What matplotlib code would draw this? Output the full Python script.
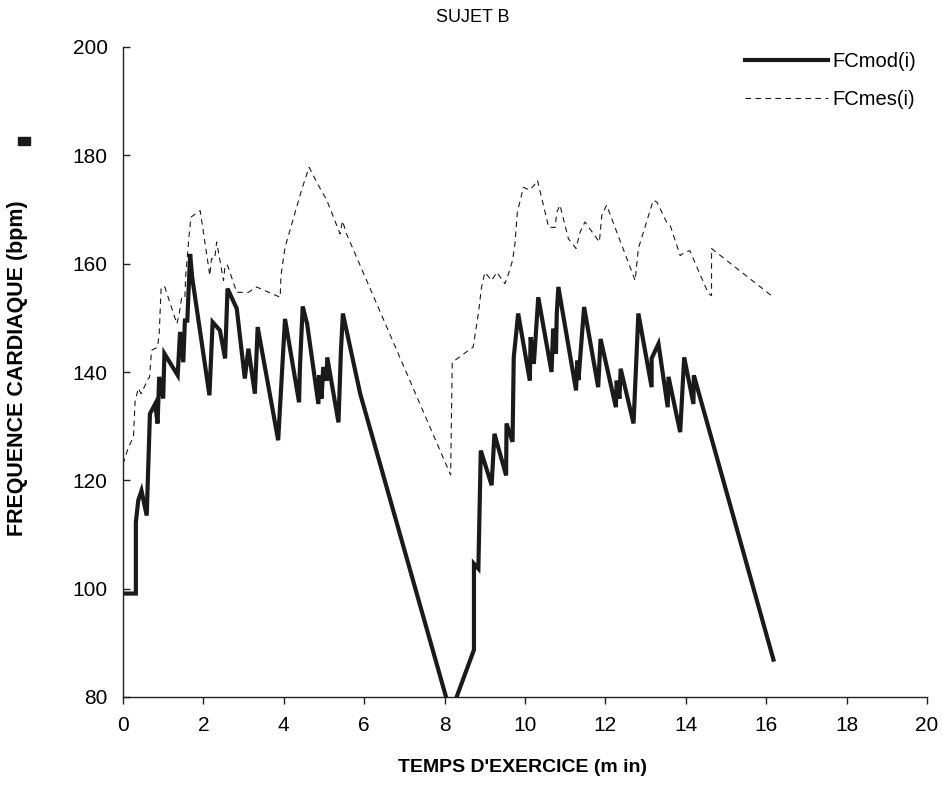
import matplotlib
matplotlib.use("Agg")
import matplotlib.pyplot as plt
from matplotlib.patches import Rectangle

plt.rcParams['font.family'] = ['Liberation Sans', 'DejaVu Sans']

# FCmod(i) - modelled heart rate
mod_t = [0, 0.32, 0.32, 0.38, 0.46, 0.59, 0.67, 0.80, 0.86, 0.90, 1.00, 1.03, 1.36, 1.42,
         1.50, 1.54, 1.60, 1.67, 1.72, 2.15, 2.23, 2.41, 2.54, 2.60, 2.83, 3.03, 3.12, 3.28,
         3.35, 3.86, 4.03, 4.38, 4.40, 4.47, 4.58, 4.86, 4.88, 4.94, 4.98, 5.07, 5.08, 5.36,
         5.42, 5.47, 5.90, 8.15, 8.73, 8.73, 8.84, 8.90, 9.17, 9.24, 9.53, 9.54, 9.69, 9.72,
         9.83, 10.12, 10.14, 10.22, 10.33, 10.66, 10.70, 10.77, 10.79, 10.83, 11.27, 11.30,
         11.33, 11.47, 11.82, 11.88, 12.26, 12.28, 12.35, 12.38, 12.70, 12.82, 13.15, 13.15,
         13.32, 13.55, 13.57, 13.86, 13.96, 14.19, 14.20, 16.18]
mod_v = [99.1, 99.1, 112.3, 116.3, 118.1, 113.5, 132.3, 134.1, 130.5, 139.1, 135.1, 143.4,
         139.4, 147.4, 141.8, 149.5, 149.5, 161.8, 157.5, 135.7, 149.2, 147.7, 142.5, 155.4,
         151.7, 138.8, 144.3, 136.0, 148.3, 127.4, 149.8, 134.4, 140.6, 152.1, 148.9, 134.1,
         139.4, 135.1, 140.9, 138.4, 142.7, 130.7, 143.7, 150.8, 136.0, 77.0, 88.7, 104.6,
         103.7, 125.5, 119.1, 128.6, 120.9, 130.5, 127.1, 142.7, 150.8, 138.4, 146.4, 141.5,
         153.8, 140.0, 148.0, 143.4, 150.8, 155.7, 136.6, 142.1, 138.5, 152.0, 137.2, 146.1,
         133.5, 138.4, 135.1, 140.6, 130.5, 150.8, 137.2, 142.5, 145.2, 133.5, 139.1, 128.9,
         142.7, 134.1, 139.4, 86.9]

# FCmes(i) - measured heart rate
mes_t = [0, 0.13, 0.26, 0.30, 0.38, 0.45, 0.63, 0.66, 0.71, 0.86, 0.90, 0.95, 1.04, 1.34,
         1.40, 1.46, 1.54, 1.56, 1.64, 1.69, 1.92, 2.16, 2.20, 2.28, 2.33, 2.50, 2.54, 2.60,
         2.83, 3.12, 3.32, 3.91, 3.93, 4.03, 4.45, 4.63, 4.82, 5.07, 5.40, 5.46, 5.56, 8.15,
         8.19, 8.71, 8.84, 8.92, 9.00, 9.17, 9.30, 9.50, 9.59, 9.69, 9.75, 9.81, 9.96, 10.11,
         10.22, 10.31, 10.59, 10.75, 10.79, 10.87, 11.08, 11.27, 11.37, 11.49, 11.85, 11.91,
         12.03, 12.74, 12.82, 13.19, 13.28, 13.52, 13.61, 13.86, 13.98, 14.10, 14.56, 14.64,
         14.64, 16.18]
mes_v = [123.0, 126.0, 128.0, 134.5, 137.0, 136.0, 138.8, 139.0, 144.0, 144.6, 147.0, 155.7,
         155.7, 148.9, 150.8, 153.8, 153.8, 157.8, 164.9, 168.6, 169.8, 157.8, 160.9, 160.9,
         164.0, 156.9, 159.7, 159.7, 154.7, 154.7, 155.7, 153.8, 157.8, 163.0, 173.8, 177.8,
         175.0, 171.7, 165.5, 167.9, 165.5, 121.0, 141.8, 144.6, 150.8, 155.7, 158.4, 156.9,
         158.4, 156.3, 158.1, 160.6, 163.7, 169.5, 174.1, 173.6, 174.4, 175.4, 166.7, 166.7,
         169.5, 170.8, 164.6, 162.8, 165.8, 167.7, 164.0, 168.9, 170.8, 156.9, 162.8, 171.7,
         171.4, 167.7, 167.1, 161.5, 162.1, 162.4, 154.5, 154.1, 162.8, 153.8]

x_ticks = list(range(0, 21, 2))
y_ticks = list(range(80, 201, 20))

W, H = 944, 792
fig = plt.figure(figsize=(W / 100, H / 100), dpi=100)
ax = fig.add_axes([123 / W, 1 - 697 / H, (927 - 123) / W, (697 - 47) / H])

ax.plot(mod_t, mod_v, color='#1a1a1a', lw=3.0, solid_joinstyle='miter', label='FCmod(i)')
ax.plot(mes_t, mes_v, color='#1a1a1a', lw=0.8, dashes=(5, 4), label='FCmes(i)')

ax.set_xlim(0, 20)
ax.set_ylim(80, 200)
ax.set_xticks(x_ticks)
ax.set_yticks(y_ticks)
for s in ['top', 'right']:
    ax.spines[s].set_visible(False)
for s in ['left', 'bottom']:
    ax.spines[s].set_linewidth(1.0)
    ax.spines[s].set_color('#222222')
ax.tick_params(axis='x', direction='out', length=5, width=1.0, colors='#222222',
               labelsize=15, labelcolor='black', pad=9)
ax.tick_params(axis='y', direction='in', length=5, width=1.0, colors='#222222',
               labelsize=15, labelcolor='black', pad=11)

fig.text(522 / W, 1 - 768 / H, "TEMPS D'EXERCICE (m in)", ha='center', va='center',
         fontsize=14, fontweight='bold')
fig.text(18 / W, 1 - 368 / H, "FREQUENCE CARDIAQUE (bpm)", ha='center', va='center',
         rotation=90, fontsize=15.5, fontweight='bold')
fig.text(473 / W, 1 - 18 / H, "SUJET B", ha='center', va='center', fontsize=13)

fig.patches.append(Rectangle((18 / W, 1 - 145 / H), 12 / W, 8 / H,
                             transform=fig.transFigure, color='#1a1a1a'))

leg = ax.legend(loc='upper left', bbox_to_anchor=(745 / W, 1 - 52 / H),
                bbox_transform=fig.transFigure, frameon=False, fontsize=14.5,
                handlelength=4.1, handletextpad=0.25, labelspacing=0.95,
                borderaxespad=0, borderpad=0)

fig.savefig('out.png', dpi=100)
